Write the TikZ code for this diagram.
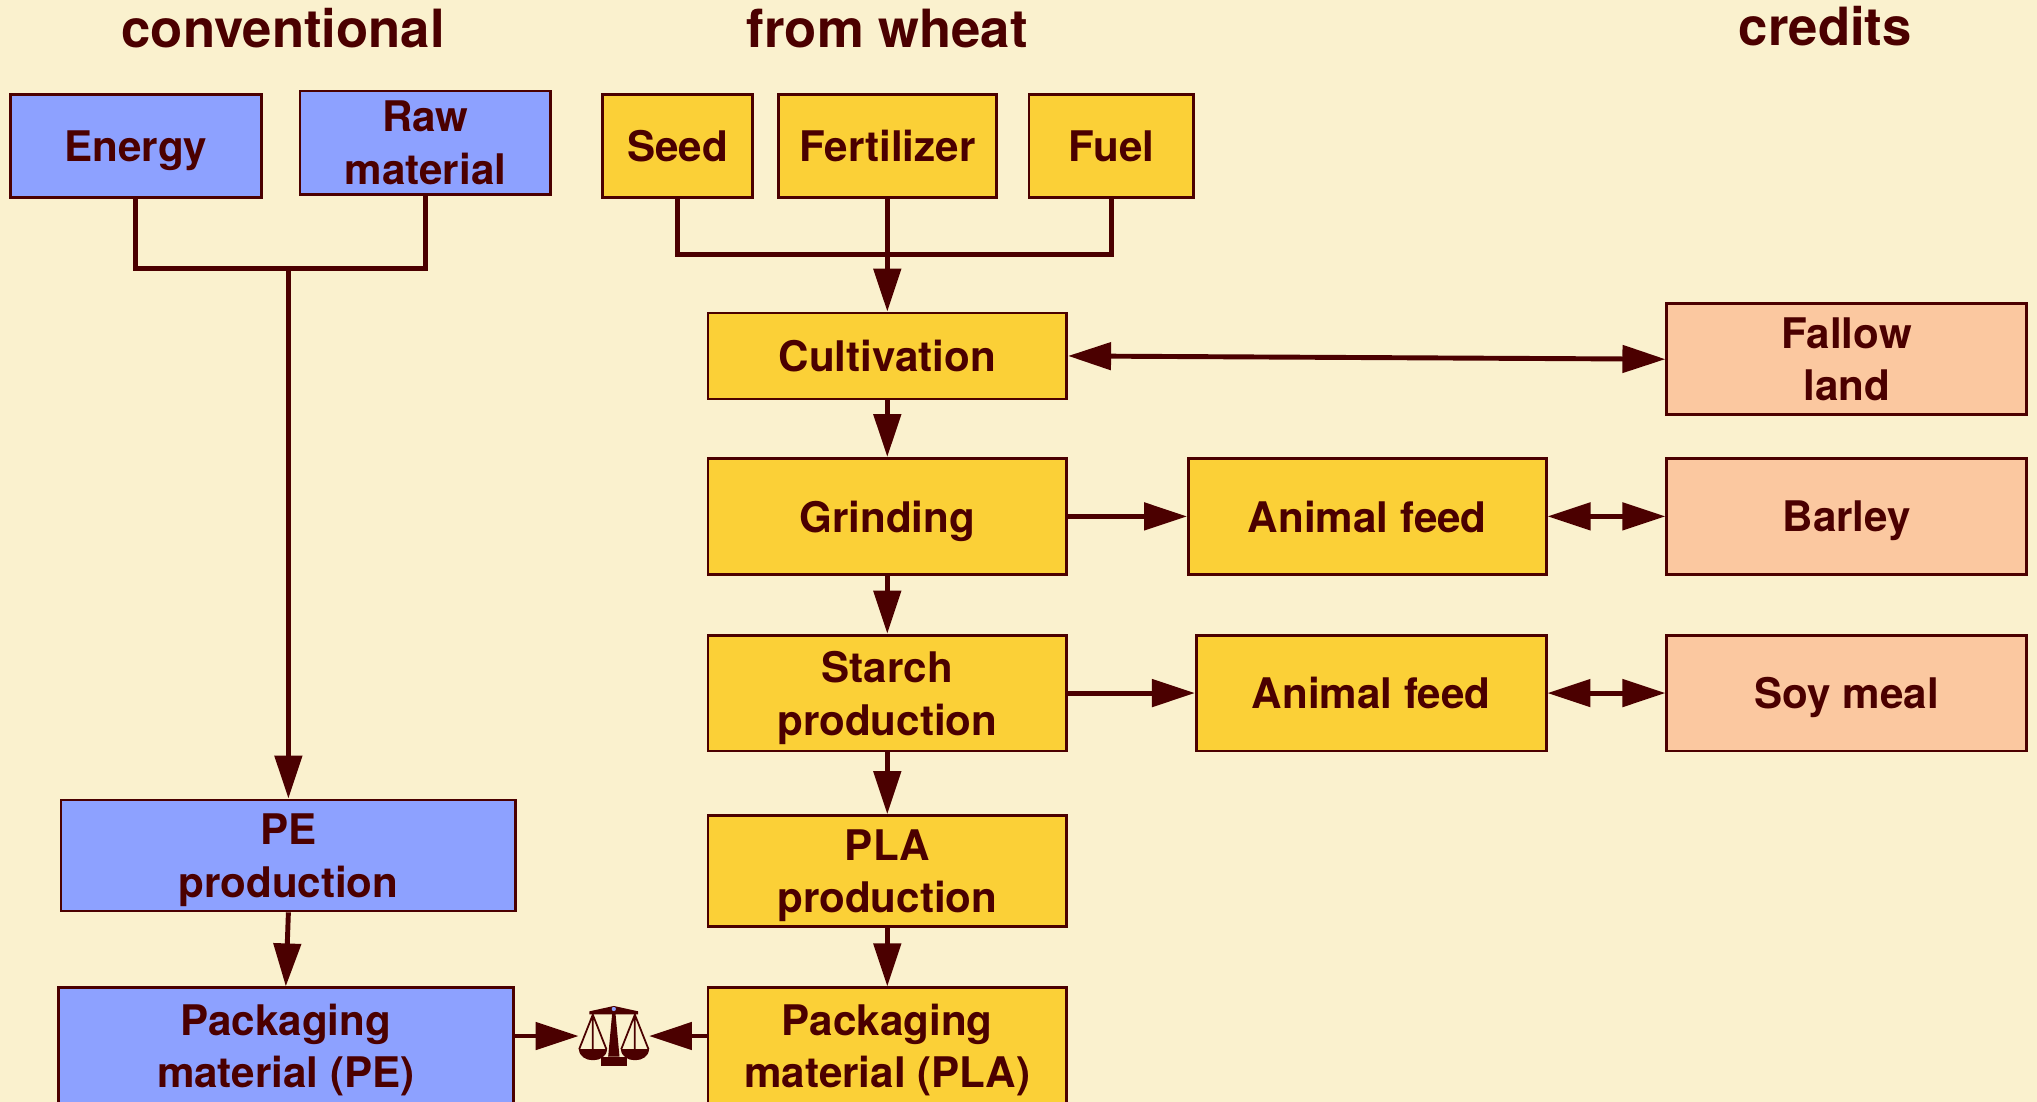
\documentclass[tikz,border=0pt]{standalone}
\usepackage{fontspec}
\setmainfont{TeX Gyre Heros}
\usetikzlibrary{arrows.meta}
\definecolor{bg}{RGB}{250,241,206}
\definecolor{ink}{RGB}{75,0,0}
\definecolor{convblue}{RGB}{141,161,255}
\definecolor{wheatyellow}{RGB}{251,208,55}
\definecolor{creditpeach}{RGB}{251,200,160}
\tikzset{
  box/.style={draw=ink, line width=0.8pt, text=ink, align=center, inner sep=0pt, text depth=0pt,
    font=\fontsize{12}{15}\selectfont\bfseries},
  conv/.style={box, fill=convblue},
  wheat/.style={box, fill=wheatyellow},
  credit/.style={box, fill=creditpeach},
  head/.style={text=ink, font=\fontsize{15}{18}\selectfont\bfseries},
  link/.style={draw=ink, line width=1.4pt},
  flow/.style={link, -{Triangle[length=0.43cm,width=0.27cm]}},
  swap/.style={link, {Triangle[length=0.43cm,width=0.27cm]}-{Triangle[length=0.43cm,width=0.27cm]}}
}

\begin{document}
\begin{tikzpicture}[x=0.013cm, y=-0.013cm]
\fill[bg] (0,0) rectangle (1568,848);
\useasboundingbox (0,0) rectangle (1568,848);

  \node[head] (h1) at (218,22) {conventional};
  \node[head] (h2) at (683,22) {from wheat};
  \node[head] (h3) at (1405,20) {credits};

 \node[conv, minimum width=2.51cm, minimum height=1.03cm] (en) at (104.5,112.5) {Energy};
 \node[conv, minimum width=2.51cm, minimum height=1.04cm] (raw) at (327.5,110) {Raw\\material};
 \node[conv, minimum width=4.55cm, minimum height=1.11cm] (pe) at (222,658.5) {PE\\production};
 \node[conv, minimum width=4.55cm, minimum height=1.16cm] (packpe) at (220,805) {Packaging\\material (PE)};

 \node[wheat, minimum width=1.50cm, minimum height=1.03cm] (seed) at (521.5,112.5) {Seed};
 \node[wheat, minimum width=2.18cm, minimum height=1.03cm] (fert) at (683,112.5) {Fertilizer};
 \node[wheat, minimum width=1.65cm, minimum height=1.03cm] (fuel) at (855.5,112.5) {Fuel};
 \node[wheat, minimum width=3.59cm, minimum height=0.86cm] (cult) at (683,274) {Cultivation};
 \node[wheat, minimum width=3.59cm, minimum height=1.16cm] (grind) at (683,397.5) {Grinding};
 \node[wheat, minimum width=3.59cm, minimum height=1.16cm] (starch) at (683,533.5) {Starch\\production};
 \node[wheat, minimum width=3.59cm, minimum height=1.11cm] (pla) at (683,670.5) {PLA\\production};
 \node[wheat, minimum width=3.59cm, minimum height=1.16cm] (packpla) at (683,805) {Packaging\\material (PLA)};
 \node[wheat, minimum width=3.58cm, minimum height=1.16cm] (feed1) at (1052.5,397.5) {Animal feed};
 \node[wheat, minimum width=3.50cm, minimum height=1.16cm] (feed2) at (1055.5,533.5) {Animal feed};

 \node[credit, minimum width=3.60cm, minimum height=1.11cm] (fallow) at (1421.5,276.5) {Fallow\\land};
 \node[credit, minimum width=3.60cm, minimum height=1.16cm] (barley) at (1421.5,397.5) {Barley};
 \node[credit, minimum width=3.60cm, minimum height=1.16cm] (soy) at (1421.5,533.5) {Soy meal};

 \node[minimum width=0.69cm, minimum height=0.6cm, inner sep=0pt] (balance) at (472.5,797.5) {};
\begin{scope}[shift={(balance.center)}, x=0.00334cm, y=-0.00334cm]
 \fill[ink] (-73,-65) -- (-73,-74) -- (0,-90) -- (73,-74) -- (73,-65) -- cycle;
 \fill[ink] (-4,-78) -- (4,-78) -- (17,62) -- (-17,62) -- cycle;
 \fill[ink] (-38,62) rectangle (38,90);
 \fill[convblue] (0,-81) circle[radius=0.6pt];
 \draw[ink, line width=0.5pt] (-104,40) -- (-63,-64) -- (-22,40) (-63,-64) -- (-63,40);
 \draw[ink, line width=0.5pt] (22,40) -- (63,-64) -- (104,40) (63,-64) -- (63,40);
 \fill[ink] (-105,40) .. controls (-105,83) and (-21,83) .. (-21,40) -- cycle;
 \fill[ink] (21,40) .. controls (21,83) and (105,83) .. (105,40) -- cycle;
\end{scope}

 \coordinate (j1) at (222,207);
 \coordinate (j2) at (683,196);
 \draw[link] (en.south) |- (j1) -| (raw.south);
 \draw[flow] (j1) -- (pe.north);
 \draw[flow] (pe.south) -- (packpe.north);
 \draw[link] (seed.south) |- (j2) -| (fuel.south);
 \draw[flow] (fert.south) -- (cult.north);
 \draw[flow] (cult.south) -- (grind.north);
 \draw[flow] (grind.south) -- (starch.north);
 \draw[flow] (starch.south) -- (pla.north);
 \draw[flow] (pla.south) -- (packpla.north);
 \draw[swap] (cult.east) -- (fallow.west);
 \draw[flow] (grind.east) -- (feed1.west);
 \draw[swap] (feed1.east) -- (barley.west);
 \draw[flow] (starch.east) -- (feed2.west);
 \draw[swap] (feed2.east) -- (soy.west);
 \draw[flow] (packpe.east |- balance.west) -- (balance.west);
 \draw[flow] (packpla.west |- balance.east) -- (balance.east);

\end{tikzpicture}
\end{document}
